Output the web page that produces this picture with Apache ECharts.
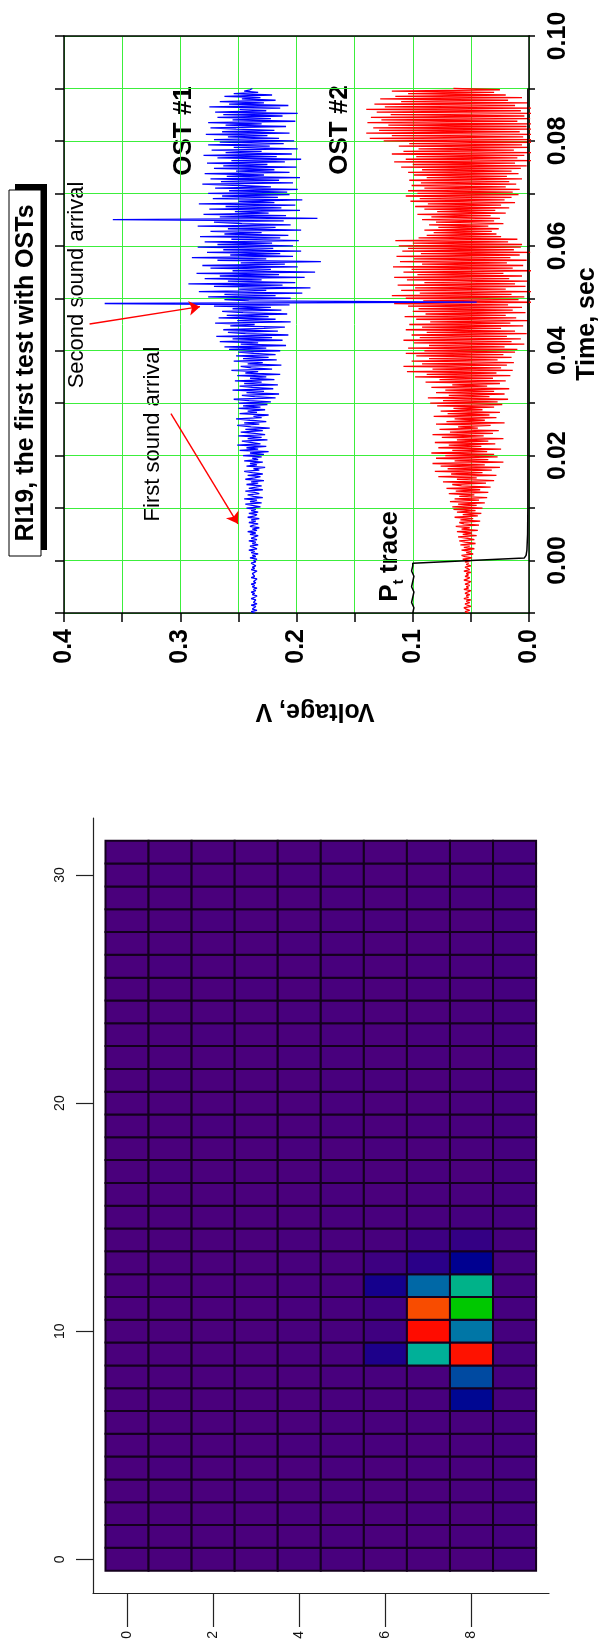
<!DOCTYPE html>
<html><head><meta charset="utf-8">
<script src="https://cdn.jsdelivr.net/npm/echarts@6/dist/echarts.min.js"></script>
<style>html,body{margin:0;padding:0;background:#fff}#c{width:615px;height:1652px}</style>
</head><body><div id="c"></div>
<script>
// ---------- DATA ----------
// Sampling of the OST traces: start time (s) and step (s)
const timeStart = -0.01;
const timeStep = 0.00025;
// OST #1 voltage (V), one value per sample
const ost1 = [
0.236,0.239,0.234,0.238,0.237,0.235,0.239,0.234,0.237,0.238,
0.235,0.239,0.236,0.234,0.238,0.236,0.239,0.235,0.237,0.234,
0.238,0.236,0.239,0.235,0.237,0.238,0.234,0.239,0.236,0.235,
0.238,0.237,0.234,0.239,0.236,0.238,0.235,0.237,0.239,0.235,
0.237,0.234,0.240,0.235,0.238,0.233,0.239,0.236,0.241,0.234,
0.237,0.240,0.233,0.238,0.235,0.241,0.234,0.239,0.236,0.233,
0.240,0.235,0.242,0.234,0.238,0.232,0.240,0.237,0.233,0.241,
0.235,0.239,0.232,0.242,0.236,0.234,0.241,0.233,0.239,0.235,
0.243,0.231,0.238,0.244,0.230,0.240,0.234,0.245,0.229,0.237,
0.242,0.232,0.236,0.244,0.229,0.241,0.235,0.230,0.243,0.233,
0.239,0.228,0.244,0.236,0.231,0.242,0.229,0.238,0.245,0.232,
0.237,0.227,0.243,0.234,0.240,0.229,0.245,0.233,0.238,0.230,
0.246,0.228,0.240,0.224,0.249,0.233,0.243,0.226,0.251,0.231,
0.238,0.247,0.225,0.242,0.230,0.250,0.227,0.236,0.248,0.229,
0.244,0.223,0.239,0.251,0.232,0.245,0.226,0.240,0.252,0.230,
0.237,0.224,0.249,0.234,0.242,0.227,0.250,0.231,0.246,0.225,
0.250,0.222,0.241,0.254,0.218,0.236,0.247,0.215,0.243,0.228,
0.255,0.220,0.238,0.249,0.216,0.245,0.230,0.253,0.219,0.240,
0.226,0.251,0.214,0.244,0.233,0.256,0.221,0.239,0.248,0.213,
0.242,0.229,0.254,0.217,0.246,0.224,0.252,0.218,0.237,0.250,
0.214,0.258,0.226,0.262,0.209,0.248,0.233,0.266,0.212,0.255,
0.221,0.269,0.207,0.244,0.259,0.216,0.263,0.228,0.210,0.257,
0.236,0.270,0.205,0.251,0.218,0.267,0.224,0.260,0.208,0.246,
0.264,0.213,0.255,0.222,0.271,0.206,0.365,0.045,0.241,0.262,
0.205,0.276,0.218,0.262,0.195,0.284,0.226,0.250,0.188,0.271,
0.212,0.293,0.201,0.259,0.230,0.279,0.193,0.266,0.215,0.286,
0.184,0.255,0.222,0.274,0.199,0.281,0.210,0.248,0.179,0.268,
0.226,0.290,0.203,0.257,0.214,0.277,0.196,0.263,0.220,0.285,
0.203,0.268,0.221,0.279,0.198,0.256,0.214,0.283,0.207,0.262,
0.230,0.274,0.196,0.259,0.218,0.285,0.205,0.247,0.271,0.211,
0.358,0.182,0.266,0.209,0.280,0.224,0.253,0.197,0.275,0.213,
0.261,0.201,0.284,0.219,0.250,0.195,0.272,0.216,0.264,0.206,
0.276,0.208,0.258,0.199,0.270,0.222,0.249,0.281,0.203,0.265,
0.215,0.274,0.197,0.260,0.228,0.279,0.206,0.252,0.219,0.271,
0.200,0.263,0.225,0.277,0.210,0.256,0.196,0.268,0.217,0.280,
0.204,0.261,0.230,0.273,0.199,0.254,0.223,0.276,0.211,0.266,
0.202,0.271,0.215,0.259,0.225,0.278,0.206,0.264,0.219,0.252,
0.274,0.209,0.261,0.230,0.276,0.201,0.255,0.222,0.268,0.212,
0.263,0.199,0.270,0.226,0.249,0.214,0.275,0.207,0.258,0.228,
0.266,0.218,0.247,0.231,0.262,0.221,0.254,0.233,0.245,0.240,
0.238];
// OST #2 voltage (V)
const ost2 = [
0.052,0.055,0.051,0.054,0.056,0.050,0.053,0.055,0.051,0.054,
0.050,0.056,0.052,0.054,0.051,0.055,0.053,0.050,0.056,0.052,
0.054,0.051,0.055,0.052,0.050,0.056,0.053,0.051,0.055,0.052,
0.054,0.050,0.056,0.051,0.053,0.055,0.050,0.054,0.052,0.055,
0.050,0.057,0.049,0.055,0.058,0.048,0.054,0.050,0.058,0.047,
0.056,0.051,0.059,0.046,0.055,0.060,0.047,0.053,0.061,0.045,
0.057,0.049,0.062,0.044,0.058,0.051,0.063,0.043,0.056,0.060,
0.042,0.059,0.048,0.064,0.044,0.057,0.041,0.062,0.046,0.065,
0.040,0.066,0.045,0.061,0.038,0.068,0.043,0.064,0.036,0.060,
0.047,0.069,0.035,0.063,0.042,0.071,0.033,0.058,0.066,0.037,
0.074,0.030,0.062,0.045,0.078,0.028,0.067,0.040,0.081,0.032,
0.070,0.025,0.076,0.038,0.083,0.022,0.064,0.035,0.080,0.027,
0.072,0.030,0.084,0.036,0.066,0.024,0.078,0.041,0.069,0.029,
0.081,0.035,0.062,0.022,0.075,0.039,0.083,0.031,0.068,0.026,
0.077,0.044,0.061,0.033,0.080,0.021,0.071,0.038,0.064,0.028,
0.082,0.034,0.070,0.025,0.076,0.040,0.065,0.030,0.079,0.023,
0.085,0.027,0.074,0.018,0.087,0.034,0.069,0.021,0.080,0.030,
0.072,0.017,0.084,0.036,0.066,0.025,0.089,0.020,0.077,0.031,
0.098,0.016,0.088,0.028,0.105,0.014,0.083,0.024,0.108,0.019,
0.092,0.013,0.101,0.027,0.086,0.015,0.097,0.022,0.106,0.012,
0.090,0.010,0.104,0.021,0.086,0.004,0.099,0.015,0.108,0.007,
0.094,0.019,0.101,0.002,0.088,0.012,0.106,0.024,0.092,0.005,
0.103,0.016,0.085,0.001,0.097,0.011,0.107,0.020,0.089,0.003,
0.100,0.014,0.095,0.006,0.104,0.018,0.116,-0.005,0.091,0.009,
0.106,0.004,0.118,0.015,0.094,-0.002,0.110,0.020,0.098,0.003,
0.113,0.012,0.090,0.001,0.105,0.017,0.116,0.006,0.096,0.022,
0.108,-0.003,0.101,0.014,0.117,0.005,0.092,0.019,0.111,0.002,
0.099,0.016,0.114,0.008,0.093,-0.001,0.109,0.013,0.104,0.007,
0.112,0.006,0.100,0.018,0.115,0.010,0.095,0.024,0.088,0.028,
0.082,0.032,0.090,0.026,0.078,0.035,0.086,0.022,0.080,0.030,
0.092,0.025,0.084,0.033,0.096,0.020,0.079,0.029,0.090,0.017,
0.098,0.024,0.087,0.012,0.102,0.021,0.094,0.015,0.106,0.009,
0.096,0.014,0.104,0.008,0.090,0.020,0.101,0.011,0.093,0.017,
0.103,0.006,0.088,0.019,0.099,0.009,0.104,0.015,0.092,0.007,
0.110,0.002,0.100,0.012,0.116,-0.003,0.106,0.010,0.097,0.004,
0.118,-0.002,0.108,0.013,0.095,0.001,0.112,0.006,0.103,-0.004,
0.125,-0.006,0.137,0.005,0.118,-0.002,0.140,0.008,0.129,-0.005,
0.134,0.002,0.121,-0.004,0.139,0.010,0.127,-0.001,0.136,0.004,
0.119,-0.003,0.131,0.007,0.140,-0.006,0.124,0.012,0.133,0.001,
0.110,0.018,0.128,0.006,0.115,0.020,0.104,0.030,0.118,0.025,
0.065];
// Pt trace
const ptTime = [-0.010,-0.009,-0.008,-0.007,-0.006,-0.005,-0.004,-0.003,-0.002,-0.001,-0.0005,0.0,0.0005,0.001,0.002,0.005,0.01,0.03,0.05,0.07,0.09];
const ptVolt = [0.100,0.099,0.101,0.100,0.099,0.101,0.100,0.099,0.101,0.100,0.100,0.050,0.004,0.0025,0.0018,0.0012,0.001,0.001,0.001,0.001,0.001];
// annotation arrows [voltage, time] : tail -> head
const arrowSecond = [[0.378, 0.0451], [0.283, 0.0484]];
const arrowFirst = [[0.308, 0.0280], [0.2504, 0.0070]];
// tick labels
const voltTicks = [0, 0.1, 0.2, 0.3, 0.4];
const timeTicks = [0, 0.02, 0.04, 0.06, 0.08, 0.10];
const heatXTicks = [0, 2, 4, 6, 8];
const heatYTicks = [0, 10, 20, 30];
// Heat map cell values, heatRows[row][col], row 0 at the bottom
const heatRows = [
[0,0,0,0,0.05,0.05,0,0,0,0.15],
[0.05,0,0,0,0,0.05,0,0,0.05,0.15],
[0,0,0,0,0.05,0,0,0.05,0,0.15],
[0,0,0,0.05,0,0.05,0,0,0.05,0.15],
[0,0.05,0,0,0,0.05,0,0.05,0.05,0.15],
[0,0,0,0,0.05,0.05,0.05,0,0.05,0.15],
[0,0,0,0,0,0.05,0.05,0.05,0.1,0.15],
[0,0,0,0,0,0.05,0.05,0.1,2.1,0.15],
[0,0,0,0,0,0.05,0.1,0.05,3.1,0.15],
[0,0,0,0,0.05,0.1,1.3,5.0,7.9,0.15],
[0,0,0,0,0.05,0.1,0.35,8.0,4.1,0.15],
[0,0,0,0,0.05,0.1,0.3,7.0,6.0,0.15],
[0,0,0,0,0.05,0.1,1.5,3.8,5.1,0.15],
[0,0,0,0,0.05,0.05,0.4,1.0,2.0,0.15],
[0,0,0,0,0.05,0.05,0.1,0.4,0.7,0.15],
[0,0,0,0,0,0.05,0.05,0.1,0.15,0.15],
[0,0,0,0,0,0.05,0,0.05,0.05,0.15],
[0,0.05,0,0,0,0.05,0,0.05,0,0.15],
[0,0,0,0,0.05,0,0.05,0,0.05,0.15],
[0,0,0.05,0,0,0.05,0,0.05,0.05,0.15],
[0,0,0,0,0,0.05,0,0,0.05,0.15],
[0,0.05,0,0,0,0.05,0.05,0,0.05,0.15],
[0,0,0,0,0.05,0.05,0,0.05,0,0.15],
[0,0,0.05,0,0,0.05,0,0.05,0.05,0.15],
[0,0,0,0,0.05,0.05,0,0,0.05,0.15],
[0,0,0,0.05,0,0.05,0,0.05,0.05,0.15],
[0,0.05,0,0,0,0.05,0,0.05,0.05,0.15],
[0,0,0,0,0.05,0.05,0,0,0.05,0.15],
[0,0,0.05,0,0,0.05,0.05,0,0,0.15],
[0,0,0,0,0,0.05,0,0.05,0.1,0.15],
[0,0.05,0,0,0.05,0.05,0,0,0.05,0.15],
[0,0,0,0,0,0.05,0,0.05,0.05,0.15]
];
// ---------- BUILD ----------
const FF = '"Liberation Sans", Arial, sans-serif';
const s1 = ost1.map((v, i) => [v, timeStart + i * timeStep]);
const s2 = ost2.map((v, i) => [v, timeStart + i * timeStep]);
const s3 = ptVolt.map((v, i) => [v, ptTime[i]]);
const heatData = [];
heatRows.forEach((row, r) => row.forEach((v, c) => heatData.push([c, r, v])));
const black = {color: '#000', width: 1.5};
const green = {color: '#3cee3c', width: 1};

const chart = echarts.init(document.getElementById('c'), null, {renderer: 'canvas'});
function rtext(x, y, text, size, weight, rot) {
  return {type: 'text', x: x, y: y, rotation: rot === undefined ? Math.PI / 2 : rot, silent: true,
    style: {text: text, fontSize: size, fontWeight: weight, fontFamily: FF, fill: '#000',
      textAlign: 'center', textVerticalAlign: 'middle'}};
}
chart.setOption({
  animation: false,
  backgroundColor: '#fff',
  grid: [
    {left: 64, right: 86, top: 36, bottom: 1039},
    {left: 93, right: 66, top: 818, bottom: 59}
  ],
  xAxis: [
    {gridIndex: 0, type: 'value', min: 0, max: 0.4, interval: 0.05, inverse: true, position: 'bottom',
      axisLine: {onZero: false, lineStyle: black},
      axisTick: {length: 9, lineStyle: black},
      axisLabel: {customValues: voltTicks, rotate: 90, margin: 16, formatter: v => v.toFixed(1),
        fontSize: 25, fontWeight: 'bold', fontFamily: FF, color: '#000'},
      splitLine: {show: true, lineStyle: green}},
    {gridIndex: 0, type: 'value', min: 0, max: 0.4, inverse: true, position: 'top',
      axisLine: {onZero: false, lineStyle: black}, axisTick: {show: false}, axisLabel: {show: false},
      splitLine: {show: false}},
    {gridIndex: 1, type: 'value', min: -0.79, max: 9.8, position: 'bottom',
      axisLine: {onZero: false, lineStyle: {color: '#222', width: 1.2}},
      axisTick: {customValues: heatXTicks, length: 34, lineStyle: {color: '#222', width: 1.2}},
      axisLabel: {customValues: heatXTicks, rotate: 90, margin: 38, fontSize: 14, fontFamily: FF, color: '#111'},
      splitLine: {show: false}}
  ],
  yAxis: [
    {gridIndex: 0, type: 'value', min: -0.01, max: 0.1, interval: 0.01, position: 'right',
      axisLine: {onZero: false, lineStyle: black},
      axisTick: {length: 6, lineStyle: black},
      axisLabel: {customValues: timeTicks, rotate: 90, margin: 17, formatter: v => v.toFixed(2),
        fontSize: 25, fontWeight: 'bold', fontFamily: FF, color: '#000'},
      splitLine: {show: true, lineStyle: green}},
    {gridIndex: 0, type: 'value', min: -0.01, max: 0.1, interval: 0.01, position: 'left',
      axisLine: {onZero: false, lineStyle: black},
      axisTick: {length: 9, lineStyle: black}, axisLabel: {show: false}, splitLine: {show: false}},
    {gridIndex: 1, type: 'value', min: -1.48, max: 32.5, position: 'left',
      axisLine: {onZero: false, lineStyle: {color: '#222', width: 1.2}},
      axisTick: {customValues: heatYTicks, length: 17, lineStyle: {color: '#222', width: 1.2}},
      axisLabel: {customValues: heatYTicks, rotate: 90, margin: 26, fontSize: 14, fontFamily: FF, color: '#111'},
      splitLine: {show: false}}
  ],
  visualMap: {type: 'continuous', show: false, seriesIndex: 3, dimension: 2, min: 0, max: 8,
    inRange: {color: ['#4a007c', '#2a0088', '#000090', '#0046a0', '#0070a8', '#00b098', '#00c800', '#f84c00', '#ff0c00']}},
  series: [
    {type: 'line', xAxisIndex: 0, yAxisIndex: 0, data: s1, showSymbol: false, symbol: 'none',
      lineStyle: {color: '#0000ff', width: 1.3}, z: 3,
      markLine: {silent: true, symbol: ['none', 'arrow'], symbolSize: 11, animation: false,
        lineStyle: {color: '#ff0000', width: 1.4, type: 'solid'}, label: {show: false},
        data: [
          [{coord: arrowSecond[0]}, {coord: arrowSecond[1]}],
          [{coord: arrowFirst[0]}, {coord: arrowFirst[1]}]
        ]}},
    {type: 'line', xAxisIndex: 0, yAxisIndex: 0, data: s2, showSymbol: false, symbol: 'none',
      lineStyle: {color: '#ff0000', width: 1.3}, z: 2},
    {type: 'line', xAxisIndex: 0, yAxisIndex: 0, data: s3, showSymbol: false, symbol: 'none',
      lineStyle: {color: '#000', width: 1.5}, z: 4},
    {type: 'custom', xAxisIndex: 2, yAxisIndex: 2, data: heatData, encode: {x: 0, y: 1},
      renderItem: function (params, api) {
        const p = api.coord([api.value(0) - 0.5, api.value(1) + 0.5]);
        const sz = api.size([1, 1]);
        return {type: 'rect', shape: {x: p[0], y: p[1], width: sz[0], height: sz[1]},
          style: {fill: api.visual('color'), stroke: '#14001e', lineWidth: 2}};
      }}
  ],
  graphic: [
    {type: 'group', x: 25, y: 373, rotation: Math.PI / 2, silent: true, children: [
      {type: 'rect', shape: {x: -183 + 6, y: -16 + 6, width: 366, height: 32}, style: {fill: '#000'}},
      {type: 'rect', shape: {x: -183, y: -16, width: 366, height: 32}, style: {fill: '#fff', stroke: '#000', lineWidth: 1}},
      {type: 'text', x: 0, y: 1, style: {text: 'RI19, the first test with OSTs', fontSize: 25, fontWeight: 'bold',
        fontFamily: FF, fill: '#000', textAlign: 'center', textVerticalAlign: 'middle'}}
    ]},
    rtext(184, 131, 'OST #1', 26, 'bold'),
    rtext(340, 130, 'OST #2', 26, 'bold'),
    rtext(76.5, 285, 'Second sound arrival', 22, 'normal'),
    rtext(152.5, 434, 'First sound arrival', 22, 'normal'),
    rtext(587, 324, 'Time, sec', 25, 'bold'),
    rtext(315, 711, 'Voltage, V', 25, 'bold', Math.PI),
    rtext(390, 593, 'P', 26, 'bold'),
    rtext(399, 582, 't', 15, 'bold'),
    rtext(390, 542, 'trace', 26, 'bold')
  ]
});
</script></body></html>
